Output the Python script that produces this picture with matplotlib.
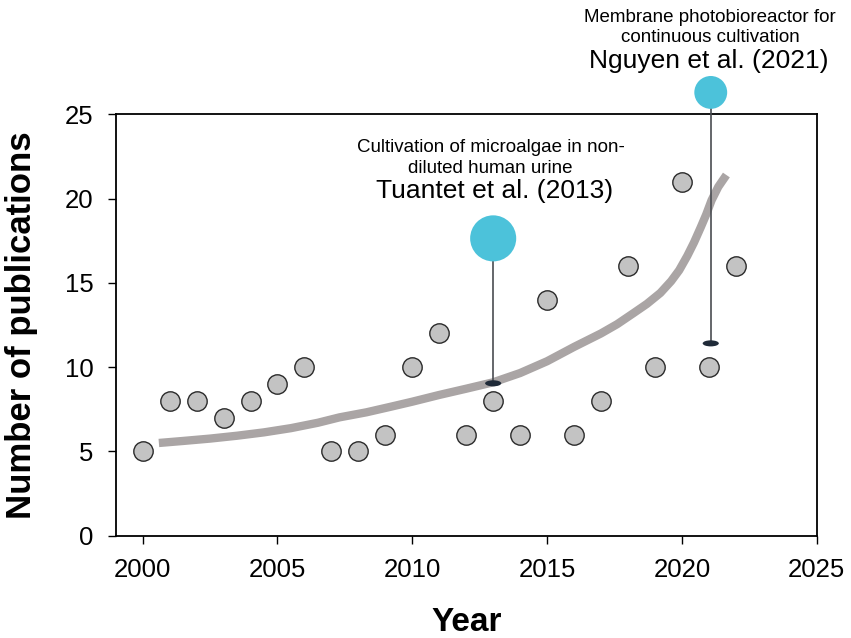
import matplotlib
matplotlib.use('Agg')
import matplotlib.pyplot as plt
from matplotlib.patches import Ellipse

plt.rcParams['font.family'] = ['Liberation Sans', 'DejaVu Sans']

# publications per year
years = [2000, 2001, 2002, 2003, 2004, 2005, 2006, 2007, 2008, 2009, 2010, 2011,
         2012, 2013, 2014, 2015, 2016, 2017, 2018, 2019, 2020, 2021, 2022]
counts = [5, 8, 8, 7, 8, 9, 10, 5, 5, 6, 10, 12,
          6, 8, 6, 14, 6, 8, 16, 10, 21, 10, 16]

# trend curve
trend_x = [2000.6, 2001.5, 2002.5, 2003.5, 2004.5, 2005.5, 2006.5, 2007.3, 2008.3, 2009.2, 2010.0,
           2011.0, 2012.0, 2013.0, 2014.0, 2015.0, 2016.0, 2017.0, 2017.6, 2018.2, 2018.7,
           2019.2, 2019.6, 2019.9, 2020.2, 2020.45, 2020.7, 2020.9, 2021.1, 2021.35, 2021.65]
trend_y = [5.5, 5.62, 5.76, 5.93, 6.13, 6.38, 6.7, 7.02, 7.32, 7.65, 7.95,
           8.35, 8.72, 9.1, 9.65, 10.35, 11.2, 12.0, 12.55, 13.2, 13.75,
           14.4, 15.1, 15.75, 16.6, 17.4, 18.3, 19.05, 19.9, 20.7, 21.4]

# highlighted papers: (x, circle y, stem bottom y)
highlights = [(2013.0, 17.64, 9.04), (2021.07, 26.3, 11.41)]
highlight_sizes = [1100, 560]

fig = plt.figure(figsize=(8.51, 6.38), dpi=100)
ax = fig.add_axes([0.136, 0.1604, 0.8237, 0.6604])

ax.plot(trend_x, trend_y, color='#aaa5a5', lw=6, solid_capstyle='butt',
        solid_joinstyle='round', zorder=2)
ax.scatter(years, counts, s=195, facecolor='#c3c3c3', edgecolor='#2b2b2b', linewidth=1.0, zorder=3)

for (hx, hy, hb), hs in zip(highlights, highlight_sizes):
    ax.plot([hx, hx], [hb, hy], color='#4a4d52', lw=1.2, zorder=4, clip_on=False)
    ax.add_patch(Ellipse((hx, hb), 0.6, 0.36, facecolor='#1f2a38', edgecolor='none', zorder=5))
    ax.scatter([hx], [hy], s=hs, color='#4cc2da', edgecolor='none', zorder=6, clip_on=False)

ax.text(2012.9, 22.77, 'Cultivation of microalgae in non-', ha='center', va='baseline', fontsize=13.5)
ax.text(2012.9, 21.53, 'diluted human urine', ha='center', va='baseline', fontsize=13.5)
ax.text(2013.05, 20.01, 'Tuantet et al. (2013)', ha='center', va='baseline', fontsize=19)

ax.text(2021.05, 30.49, 'Membrane photobioreactor for', ha='center', va='baseline', fontsize=13.5, clip_on=False)
ax.text(2021.05, 29.3, 'continuous cultivation', ha='center', va='baseline', fontsize=13.5, clip_on=False)
ax.text(2021.0, 27.72, 'Nguyen et al. (2021)', ha='center', va='baseline', fontsize=19, clip_on=False)

ax.set_xlim(1999, 2025)
ax.set_ylim(0, 25)
ax.set_xticks([2000, 2005, 2010, 2015, 2020, 2025])
ax.set_yticks([0, 5, 10, 15, 20, 25])
ax.tick_params(direction='out', length=6, width=1, labelsize=18.5, pad=10)

for sp in ax.spines.values():
    sp.set_linewidth(1.3)

ax.set_xlabel('Year', fontsize=24, fontweight='bold', labelpad=18)
ax.set_ylabel('Number of publications', fontsize=25, fontweight='bold', labelpad=19)

fig.savefig('out.png', dpi=100)
